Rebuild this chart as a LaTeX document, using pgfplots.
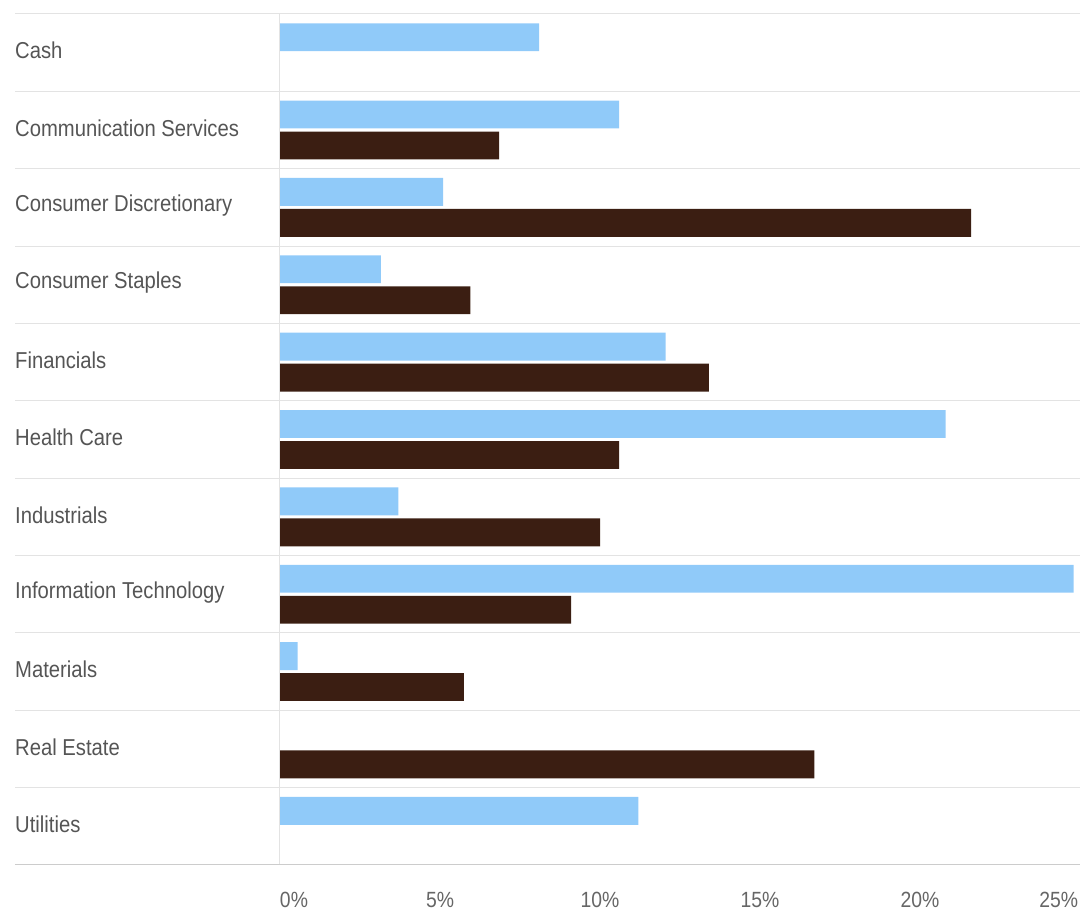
\documentclass[border=0pt]{standalone}
\usepackage{fontspec}
\setmainfont{Liberation Sans}[FakeStretch=0.88]
\usepackage{pgfplots}
\pgfplotsset{compat=1.18}
\definecolor{lblue}{HTML}{90CAF9}
\definecolor{dbrown}{HTML}{3B1E12}
\definecolor{gridc}{HTML}{E3E3E3}
\definecolor{basec}{HTML}{CCCCCC}
\definecolor{txt}{HTML}{555555}
\definecolor{txttwo}{HTML}{666666}
\begin{document}
\begin{tikzpicture}
\begin{axis}[
  scale only axis, width=800pt, height=851pt,
  xmin=0, xmax=25, ymin=-0.5, ymax=10.5,
  axis line style={draw=none},
  xtick={0,5,10,15,20,25},
  xticklabels={{\rlap{0\%}},5\%,10\%,15\%,20\%,{\llap{25\%\hspace{2pt}}}},
  ytick={0,1,2,3,4,5,6,7,8,9,10},
  yticklabels={Utilities,Real Estate,Materials,Information Technology,Industrials,Health Care,Financials,Consumer Staples,Consumer Discretionary,Communication Services,Cash},
  minor ytick={-0.5,0.5,1.5,2.5,3.5,4.5,5.5,6.5,7.5,8.5,9.5,10.5},
  yminorgrids, minor grid style={gridc, line width=1pt},
  major tick length=0pt, minor tick length=265pt, tick align=outside,
  minor tick style={gridc, line width=1pt},
  ytick pos=left, xtick pos=lower,
  yticklabel style={anchor=west, inner sep=0pt, xshift=-265pt, yshift=2pt, font=\fontsize{23}{27}\selectfont, text=txt},
  xticklabel style={font=\fontsize{22}{26}\selectfont, text=txttwo, yshift=-24pt},
  /pgf/number format/assume math mode=true,
  clip=false,
]
\addplot[xbar, bar width=0.36, bar shift=0.2, fill=lblue, draw=none] coordinates {
  (8.1,10) (10.6,9) (5.1,8) (3.15,7) (12.05,6) (20.8,5) (3.7,4) (24.8,3) (0.55,2) (11.2,0)};
\addplot[xbar, bar width=0.36, bar shift=-0.2, fill=dbrown, draw=none] coordinates {
  (6.85,9) (21.6,8) (5.95,7) (13.4,6) (10.6,5) (10.0,4) (9.1,3) (5.75,2) (16.7,1)};
\draw[gridc, line width=1pt] (rel axis cs:0,0) -- (rel axis cs:0,1);
\draw[basec, line width=1pt] ([xshift=-265pt]rel axis cs:0,0) -- (rel axis cs:1,0);
\end{axis}
\pgfresetboundingbox
\path[use as bounding box] ([xshift=-280pt,yshift=-49pt]current axis.south west) rectangle ([xshift=3pt,yshift=14pt]current axis.north east);
\end{tikzpicture}
\end{document}
